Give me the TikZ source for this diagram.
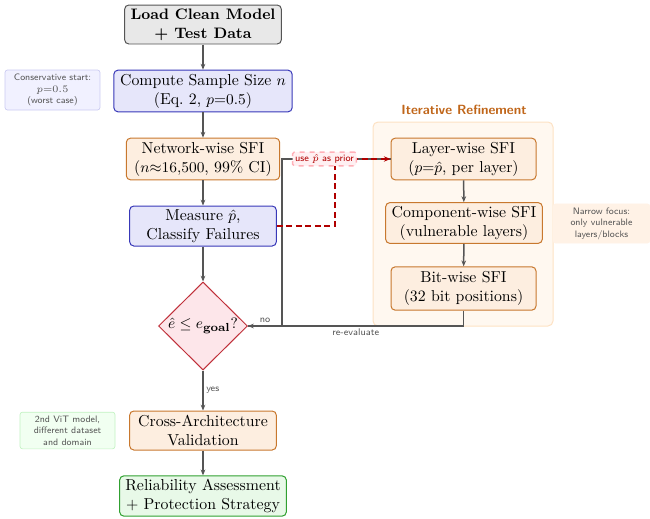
\documentclass[tikz,border=0pt]{standalone}
\usetikzlibrary{shapes.geometric,arrows.meta}
\definecolor{lineg}{HTML}{555555}
\definecolor{grayfill}{HTML}{E8E8E8}
\definecolor{graydraw}{HTML}{555555}
\definecolor{bluefill}{HTML}{E6E6FA}
\definecolor{bluedraw}{HTML}{3838B8}
\definecolor{orfill}{HTML}{FDEEE0}
\definecolor{ordraw}{HTML}{C8782E}
\definecolor{grfill}{HTML}{E8F9E8}
\definecolor{grdraw}{HTML}{30A030}
\definecolor{diafill}{HTML}{FDE6EA}
\definecolor{diadraw}{HTML}{C0303A}
\definecolor{nbfill}{HTML}{F1F1FF}
\definecolor{nbdraw}{HTML}{CACAF2}
\definecolor{ngfill}{HTML}{F1FFF1}
\definecolor{ngdraw}{HTML}{C2F2C2}
\definecolor{nofill}{HTML}{FFF2E6}
\definecolor{bgfill}{HTML}{FFF8F0}
\definecolor{bgdraw}{HTML}{FDE2C4}
\definecolor{titlec}{HTML}{C0661A}
\definecolor{darkred}{HTML}{B00000}
\definecolor{pinkdraw}{HTML}{FFB0B8}
\definecolor{pinkfill}{HTML}{FFF0F2}
\definecolor{notetext}{HTML}{555555}
\begin{document}
\begin{tikzpicture}[x=0.6pt,y=-0.6pt,
  box/.style={rounded corners=2.5pt, line width=0.6pt, align=center, inner sep=2pt, font=\fontsize{9.5}{11.4}\selectfont},
  graybox/.style={box, fill=grayfill, draw=graydraw, font=\fontsize{9.1}{11.4}\selectfont\bfseries},
  bluebox/.style={box, fill=bluefill, draw=bluedraw},
  orbox/.style={box, fill=orfill, draw=ordraw},
  grbox/.style={box, fill=grfill, draw=grdraw},
  note/.style={rounded corners=1.5pt, line width=0.4pt, align=center, inner sep=1pt, text=notetext, font=\sffamily\fontsize{5.6}{6.9}\selectfont},
  arr/.style={draw=lineg, line width=0.9pt, -{Stealth[length=3.5pt,width=2.8pt]}},
  lnk/.style={draw=lineg, line width=0.9pt},
  lbl/.style={text=notetext, font=\sffamily\fontsize{5.8}{7}\selectfont, inner sep=1.5pt},
  reddash/.style={draw=darkred, line width=1.3pt, dash pattern=on 3.5pt off 2.2pt}
]
\useasboundingbox (0,0) rectangle (650,519);

% background of iterative refinement
\node[rounded corners=3pt, fill=bgfill, draw=bgdraw, line width=0.6pt, minimum width=108pt, minimum height=122.4pt] (bg) at (463,224) {};
\node[text=titlec, font=\sffamily\bfseries\fontsize{8}{10}\selectfont] (title) at (464,110) {Iterative Refinement};

% main column
\node[graybox, minimum width=94pt, minimum height=23.4pt] (load) at (203,24.5) {Load Clean Model\\+ Test Data};
\node[bluebox, minimum width=107pt, minimum height=25pt] (comp) at (203,91) {Compute Sample Size $n$\\(Eq.~2, $p{=}0.5$)};
\node[orbox, minimum width=92pt, minimum height=25pt] (net) at (203,159) {Network-wise SFI\\($n{\approx}16{,}500$, 99\% CI)};
\node[bluebox, minimum width=88pt, minimum height=24pt] (meas) at (203,226) {Measure $\hat{p}$,\\Classify Failures};
\node[diamond, aspect=1, fill=diafill, draw=diadraw, line width=0.6pt, minimum width=53.4pt, minimum height=52.8pt, inner sep=0pt] (dia) at (203,326) {};
\node[inner sep=0pt, font=\fontsize{9.5}{11.4}\selectfont] (diatxt) at (dia.center) {$\hat{e} \leq e_{\mathbf{goal}}?$};
\node[orbox, minimum width=88pt, minimum height=23.4pt] (cross) at (203,430.5) {Cross-Architecture\\Validation};
\node[grbox, minimum width=100pt, minimum height=24pt] (rel) at (203,496) {Reliability Assessment\\+ Protection Strategy};

% refinement column
\node[orbox, minimum width=87pt, minimum height=25pt] (layer) at (463.5,159) {Layer-wise SFI\\($p{=}\hat{p}$, per layer)};
\node[orbox, minimum width=94pt, minimum height=24pt] (compo) at (464,223) {Component-wise SFI\\(vulnerable layers)};
\node[orbox, minimum width=87pt, minimum height=26pt] (bit) at (463.5,288.5) {Bit-wise SFI\\(32 bit positions)};

% notes
\node[note, fill=nbfill, draw=nbdraw, minimum width=57pt, minimum height=24pt] (n1) at (52.5,90) {Conservative start:\\$p{=}0.5$\\(worst case)};
\node[note, fill=ngfill, draw=ngdraw, minimum width=57pt, minimum height=22pt] (n2) at (67.5,430.5) {2nd ViT model,\\different dataset\\and domain};
\node[note, fill=nofill, draw=nofill, minimum width=58pt, minimum height=23.5pt] (n3) at (601.5,223.5) {Narrow focus:\\only vulnerable\\layers/blocks};

% coordinates
\coordinate (noc) at (282,326);
\coordinate (pr) at (335,159);

% connectors
\draw[arr] (load) -- (comp);
\draw[arr] (comp) -- (net);
\draw[arr] (net) -- (meas);
\draw[arr] (meas) -- (dia);
\draw[arr] (dia) -- node[lbl, right] {yes} (cross);
\draw[arr] (cross) -- (rel);
\draw[arr] (layer) -- (compo);
\draw[arr] (compo) -- (bit);
\draw[lnk] (dia.east) -- node[lbl, above] {no} (noc) |- (layer.west);
\draw[arr] (bit.south) |- node[lbl, pos=0.75, below] {re-evaluate} (dia.east);
\draw[reddash, -{Stealth[length=4pt,width=3.2pt]}] (meas.east) -| (pr) -- (layer.west);
\node[fill=pinkfill, draw=pinkdraw, dashed, line width=0.9pt, rounded corners=1pt, inner sep=1.5pt, text=darkred, font=\sffamily\fontsize{5.8}{7}\selectfont] (prior) at (324.5,159) {use $\hat{p}$ as prior};
\end{tikzpicture}
\end{document}
